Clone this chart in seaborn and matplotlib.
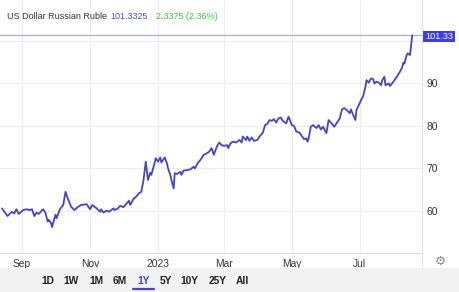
import matplotlib
matplotlib.use("Agg")
import matplotlib.pyplot as plt
import matplotlib.dates as mdates
from matplotlib.patches import Rectangle
from matplotlib.lines import Line2D
import seaborn as sns
import pandas as pd

# ---- data ----
dates = [
    "2022-08-14", "2022-08-19", "2022-08-23", "2022-08-25", "2022-08-27", "2022-08-29",
    "2022-09-02", "2022-09-05", "2022-09-08", "2022-09-10", "2022-09-12", "2022-09-14",
    "2022-09-16", "2022-09-20", "2022-09-22", "2022-09-24", "2022-09-25", "2022-09-27",
    "2022-09-28", "2022-10-01", "2022-10-02", "2022-10-05", "2022-10-08", "2022-10-10",
    "2022-10-12", "2022-10-15", "2022-10-18", "2022-10-21", "2022-10-24", "2022-10-29",
    "2022-11-01", "2022-11-03", "2022-11-07", "2022-11-10", "2022-11-11", "2022-11-13",
    "2022-11-16", "2022-11-18", "2022-11-22", "2022-11-23", "2022-11-26", "2022-11-28",
    "2022-12-01", "2022-12-04", "2022-12-06", "2022-12-07", "2022-12-10", "2022-12-13",
    "2022-12-15", "2022-12-17", "2022-12-19", "2022-12-21", "2022-12-23", "2022-12-25",
    "2022-12-26", "2022-12-28", "2022-12-30", "2023-01-01", "2023-01-03", "2023-01-04",
    "2023-01-06", "2023-01-07", "2023-01-09", "2023-01-10", "2023-01-12", "2023-01-13",
    "2023-01-15", "2023-01-16", "2023-01-18", "2023-01-21", "2023-01-22", "2023-01-24",
    "2023-01-27", "2023-01-30", "2023-02-02", "2023-02-03", "2023-02-06", "2023-02-08",
    "2023-02-11", "2023-02-14", "2023-02-16", "2023-02-18", "2023-02-20", "2023-02-23",
    "2023-02-25", "2023-02-27", "2023-03-01", "2023-03-04", "2023-03-05", "2023-03-07",
    "2023-03-09", "2023-03-12", "2023-03-15", "2023-03-17", "2023-03-18", "2023-03-21",
    "2023-03-22", "2023-03-24", "2023-03-26", "2023-03-28", "2023-03-31", "2023-04-02",
    "2023-04-05", "2023-04-07", "2023-04-09", "2023-04-11", "2023-04-13", "2023-04-15",
    "2023-04-17", "2023-04-19", "2023-04-21", "2023-04-23", "2023-04-26", "2023-04-28",
    "2023-04-29", "2023-05-01", "2023-05-03", "2023-05-05", "2023-05-08", "2023-05-10",
    "2023-05-12", "2023-05-14", "2023-05-15", "2023-05-16", "2023-05-18", "2023-05-20",
    "2023-05-23", "2023-05-25", "2023-05-27", "2023-05-29", "2023-06-01", "2023-06-03",
    "2023-06-06", "2023-06-08", "2023-06-10", "2023-06-13", "2023-06-15", "2023-06-17",
    "2023-06-19", "2023-06-22", "2023-06-23", "2023-06-25", "2023-06-27", "2023-06-28",
    "2023-06-30", "2023-07-03", "2023-07-04", "2023-07-06", "2023-07-07", "2023-07-09",
    "2023-07-11", "2023-07-13", "2023-07-14", "2023-07-16", "2023-07-18", "2023-07-20",
    "2023-07-21", "2023-07-23", "2023-07-24", "2023-07-27", "2023-07-28", "2023-07-31",
    "2023-08-03", "2023-08-06", "2023-08-08", "2023-08-09", "2023-08-10", "2023-08-12",
    "2023-08-13", "2023-08-15", "2023-08-16", "2023-08-17",
]
rates = [
    60.6, 58.8, 59.8, 59.4, 60.4, 59.3,
    60.2, 60.4, 60.2, 60.4, 58.8, 59.6,
    59.3, 60.4, 59.6, 57.5, 57.9, 57.2,
    56.2, 59.1, 58.3, 60.4, 61.4, 64.5,
    63.0, 61.0, 60.2, 60.9, 61.4, 61.6,
    60.4, 61.4, 60.6, 59.8, 60.4, 59.6,
    60.1, 59.8, 60.6, 60.2, 60.6, 61.2,
    60.9, 61.8, 62.4, 61.4, 62.8, 63.5,
    64.2, 64.5, 67.3, 71.6, 67.3, 69.0,
    68.5, 70.4, 72.4, 71.6, 72.6, 71.4,
    72.2, 72.6, 71.2, 70.0, 68.5, 67.3,
    65.3, 68.9, 68.7, 69.2, 68.5, 69.5,
    69.6, 69.8, 70.4, 70.0, 71.4, 72.0,
    73.2, 73.6, 74.0, 74.8, 73.2, 75.3,
    76.1, 75.5, 75.3, 75.5, 74.8, 75.9,
    76.3, 76.1, 76.7, 76.1, 77.5, 76.7,
    77.5, 76.5, 77.3, 76.5, 76.7, 77.5,
    78.4, 80.2, 80.5, 81.4, 81.2, 81.6,
    80.8, 81.8, 82.0, 81.2, 80.6, 82.2,
    81.6, 80.2, 80.0, 78.7, 78.4, 77.6,
    76.9, 77.1, 76.3, 77.0, 79.8, 80.2,
    79.5, 80.2, 79.2, 79.8, 78.3, 81.4,
    80.5, 79.8, 80.6, 81.8, 83.9, 84.2,
    83.8, 83.0, 83.9, 82.6, 81.4, 83.8,
    84.9, 86.5, 87.1, 89.2, 90.8, 90.2,
    91.2, 91.0, 90.0, 90.4, 90.2, 89.6,
    90.7, 91.6, 89.6, 90.0, 89.4, 90.4,
    91.5, 92.8, 93.8, 94.9, 94.7, 96.7,
    97.1, 96.7, 99.1, 101.3325,
]
title_name = "US Dollar Russian Ruble"
last_value = "101.3325"
change_text = "2.3375 (2.36%)"
last_label = "101.33"
y_ticks = [60, 70, 80, 90]
x_tick_dates = ["2022-09-01", "2022-11-01", "2023-01-01", "2023-03-01", "2023-05-01", "2023-07-01"]
x_tick_labels = ["Sep", "Nov", "2023", "Mar", "May", "Jul"]
range_buttons = ["1D", "1W", "1M", "6M", "1Y", "5Y", "10Y", "25Y", "All"]
selected_button = "1Y"

# ---- styling ----
sns.set_theme(style="white")
plt.rcParams["font.family"] = ["Liberation Sans", "DejaVu Sans"]

W, H = 460, 292
fig = plt.figure(figsize=(W / 100, H / 100), dpi=100)
fig.patch.set_facecolor("white")

def fx(px):
    return px / W

def fy(py):
    return 1 - py / H

ax = fig.add_axes([0, fy(253), fx(422), fy(0) - fy(253)])
ax.set_facecolor("white")

df = pd.DataFrame({"date": pd.to_datetime(dates), "rate": rates})
line_color = "#4444c8"
sns.lineplot(data=df, x="date", y="rate", ax=ax, color=line_color, linewidth=1.3)

# axis ranges
x0 = mdates.date2num(pd.Timestamp("2022-09-01")) - 22 / 1.115
x1 = mdates.date2num(pd.Timestamp("2022-09-01")) + (422 - 22) / 1.115
ax.set_xlim(x0, x1)
ax.set_ylim(50.1, 109.65)

ax.set_xticks(mdates.date2num(pd.to_datetime(x_tick_dates)))
ax.set_xticklabels(x_tick_labels)
ax.set_yticks(y_ticks + [100])
ax.set_yticklabels([str(t) for t in y_ticks] + [""])
ax.yaxis.tick_right()
ax.tick_params(axis="both", length=0, labelsize=7.4, labelcolor="#333333")
ax.tick_params(axis="x", pad=4)
ax.tick_params(axis="y", pad=3)
for lbl in ax.get_yticklabels():
    lbl.set_horizontalalignment("left")
ax.set_xlabel("")
ax.set_ylabel("")
ax.grid(True, color="#ececf2", linewidth=0.8)
for s in ["top", "left", "right"]:
    ax.spines[s].set_visible(False)
ax.spines["bottom"].set_color("#dddddd")
ax.spines["bottom"].set_linewidth(0.8)

# last value line
ax.axhline(rates[-1], color="#a8a8e8", linewidth=0.9, zorder=1)

# right separator
fig.add_artist(Line2D([fx(422.5), fx(422.5)], [fy(0), fy(268)], color="#e4e4e4", linewidth=0.8))

# last value tag
fig.add_artist(Rectangle((fx(423), fy(42)), fx(455) - fx(423), fy(31.3) - fy(42),
                         facecolor="#3d3de0", edgecolor="none", transform=fig.transFigure))
fig.text(fx(439.5), fy(36.8), last_label, color="white", fontsize=6.6, ha="center", va="center")

# header (texts chained one after another)
fig.canvas.draw()
renderer = fig.canvas.get_renderer()
hx = 7.5
for txt, col, gap in [(title_name, "#333333", 3), (last_value, "#4a4ad0", 8), (change_text, "#2ec84a", 0)]:
    t = fig.text(fx(hx), fy(16.5), txt, color=col, fontsize=6.5, ha="left", va="center")
    bb = t.get_window_extent(renderer=renderer)
    hx += bb.width + gap

# bottom bar
fig.add_artist(Rectangle((0, 0), 1, fy(268), facecolor="#f2f2f2", edgecolor="none",
                         transform=fig.transFigure))
btn_x = [47.5, 71, 96, 120, 143.5, 165.5, 189.5, 217.5, 242]
for lab, bx in zip(range_buttons, btn_x):
    sel = lab == selected_button
    fig.text(fx(bx), fy(281.5), lab, color="#4444cc" if sel else "#222222", fontsize=7.4,
             fontweight="bold", ha="center", va="center")
    if sel:
        fig.add_artist(Line2D([fx(133), fx(154)], [fy(288.5), fy(288.5)], color="#4444cc", linewidth=1.6))

# settings gear
fig.text(fx(440), fy(261), "\u2699", color="#888888", fontsize=9, ha="center", va="center",
         family="DejaVu Sans")

fig.savefig("out.png", dpi=100, facecolor="white")
